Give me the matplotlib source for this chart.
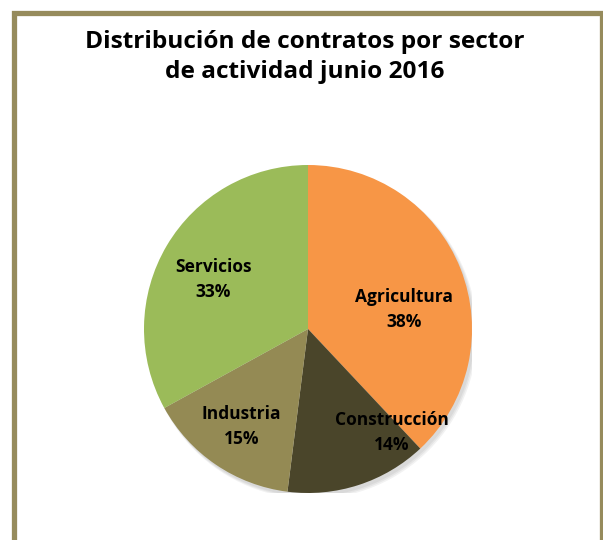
import numpy as np
import matplotlib
matplotlib.use("Agg")
import matplotlib.pyplot as plt
from matplotlib.patches import Rectangle, Circle

# datos del grafico
sectores = ["Agricultura", "Construcción", "Industria", "Servicios"]
porcentajes = [38, 14, 15, 33]
colores = ["#F79646", "#4A452A", "#948A54", "#9BBB59"]
titulo = "Distribución de contratos por sector\nde actividad junio 2016"

# ajustes de posicion de las etiquetas (angulo extra en grados, radio)
desplaz_ang = [-10, 21, 0, 3]
radio_etq = [0.60, 0.81, 0.72, 0.65]

plt.rcParams['font.family'] = ['Open Sans', 'DejaVu Sans']

fig = plt.figure(figsize=(6.03, 5.40), dpi=100)
fig.patch.set_facecolor("white")

# marco del grafico
marco = Rectangle((13.5 / 603, -0.05), (601.5 - 13.5) / 603, 1.05 - 13.5 / 540,
                  transform=fig.transFigure, fill=False, edgecolor="#968B5C",
                  linewidth=3.8, clip_on=False)
fig.patches.append(marco)

fig.text(0.505, 1 - 57 / 540, titulo, ha="center", va="center", fontsize=17.6,
         fontweight="bold", linespacing=1.35)

ax = fig.add_axes([144 / 603, (540 - 329 - 164) / 540, 328 / 603, 328 / 540])

# sombra suave
for i, a in enumerate([0.05, 0.05, 0.05]):
    ax.add_patch(Circle((0.015 + 0.004 * i, -0.02 - 0.004 * i), 1.0 + 0.004 * i,
                        color="black", alpha=a, zorder=0, linewidth=0))

cunas, _ = ax.pie(porcentajes, colors=colores, startangle=90, counterclock=False,
                  wedgeprops=dict(linewidth=0))
for c in cunas:
    c.set_zorder(2)

for cuna, nom, p, da, r in zip(cunas, sectores, porcentajes, desplaz_ang, radio_etq):
    ang = np.deg2rad((cuna.theta1 + cuna.theta2) / 2 + da)
    ax.text(r * np.cos(ang), r * np.sin(ang), f"{nom}\n{p}%", ha="center", va="center",
            fontsize=12.5, fontweight="bold", linespacing=1.5, zorder=3)

ax.set_xlim(-1, 1)
ax.set_ylim(-1, 1)
ax.set_aspect("equal")
ax.axis("off")

fig.savefig("out.png", dpi=100)
